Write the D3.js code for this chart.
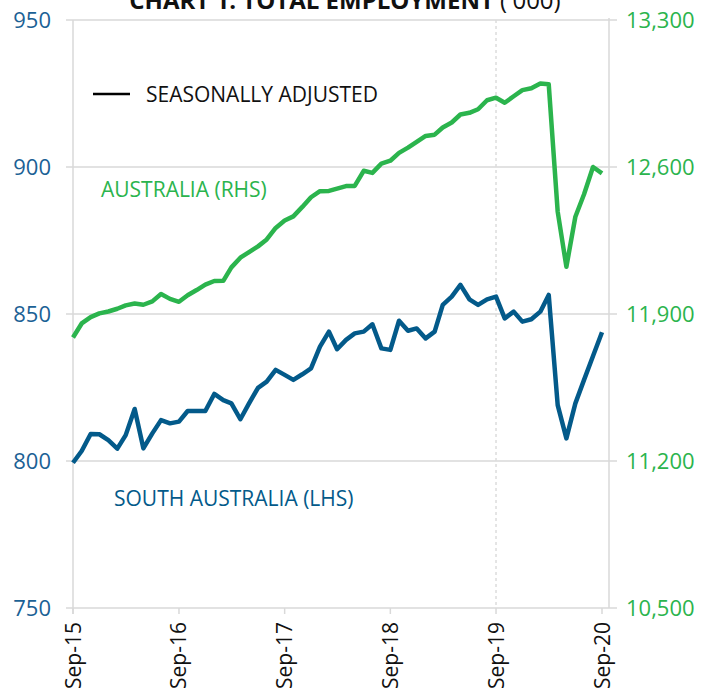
<!DOCTYPE html>
<html><head><meta charset="utf-8">
<script src="https://cdn.jsdelivr.net/npm/d3@7"></script>
<style>body{margin:0;background:#fff;} svg{display:block;font-family:"Open Sans",sans-serif;}</style>
</head><body>
<svg id="c" width="711" height="693"></svg>
<script>
// Monthly, Sep-2015 .. Sep-2020
const startMonth = new Date(2015, 8, 1);
const southAustralia = [799.4,803.4,809.2,809.1,807.1,804.2,808.8,817.7,804.3,809.4,813.9,812.8,813.4,817,817,817,822.8,820.7,819.6,814.2,819.6,824.9,827,831,829.3,827.6,829.5,831.5,838.9,844,838,841.2,843.4,844,846.5,838.3,837.8,847.7,844.3,845.1,841.7,844,853.1,855.9,859.9,855,853.1,855,855.9,848.5,850.8,847.4,848.2,850.8,856.5,819,807.7,819.6,827.6,835.7,843.8];
const australia = [11788,11855,11885,11903,11912,11925,11941,11950,11944,11960,11995,11972,11958,11989,12014,12040,12057,12058,12122,12168,12195,12222,12255,12310,12345,12365,12410,12456,12485,12486,12497,12509,12510,12582,12572,12616,12630,12667,12692,12720,12748,12754,12788,12812,12850,12858,12875,12918,12930,12906,12937,12966,12975,12998,12994,12387,12125,12363,12470,12600,12570];
const leftTicks = [750,800,850,900,950];
const rightTicks = [10500,11200,11900,12600,13300];
const xTickLabels = ["Sep-15","Sep-16","Sep-17","Sep-18","Sep-19","Sep-20"];
const title = "CHART 1: TOTAL EMPLOYMENT";
const titleUnit = " ('000)";
const legendLabel = "SEASONALLY ADJUSTED";
const ausLabel = "AUSTRALIA (RHS)";
const saLabel = "SOUTH AUSTRALIA (LHS)";

const blue = "#035a8a", green = "#2bb44d", grid = "#d9d9d9";
const svg = d3.select("#c");
const L = 73, R = 602, T = 20, B = 608;
const dates = southAustralia.map((_, i) => d3.timeMonth.offset(startMonth, i));
const x = d3.scaleTime().domain([dates[0], dates[dates.length-1]]).range([L, R]);
const yL = d3.scaleLinear().domain([750, 950]).range([B, T]);
const yR = d3.scaleLinear().domain([10500, 13300]).range([B, T]);

// gridlines
svg.append("g").selectAll("line").data(leftTicks).join("line")
  .attr("x1", 66).attr("x2", 617).attr("y1", d => yL(d)).attr("y2", d => yL(d))
  .attr("stroke", grid).attr("stroke-width", 1.5);
// left and right frame lines
svg.append("line").attr("x1", L).attr("x2", L).attr("y1", T).attr("y2", B+6).attr("stroke", grid).attr("stroke-width", 1.5);
svg.append("line").attr("x1", 609).attr("x2", 609).attr("y1", T-2).attr("y2", B).attr("stroke", grid).attr("stroke-width", 1.5);
// Sep-19 dashed line
const tickDates = xTickLabels.map((_, i) => new Date(2015 + i, 8, 1));
svg.append("line").attr("x1", x(tickDates[4])).attr("x2", x(tickDates[4])).attr("y1", T).attr("y2", B)
  .attr("stroke", "#dcdcdc").attr("stroke-width", 1.5).attr("stroke-dasharray", "3,3");

// x axis ticks
svg.append("g").selectAll("line").data(tickDates).join("line")
  .attr("x1", d => x(d)).attr("x2", d => x(d)).attr("y1", B).attr("y2", B+6)
  .attr("stroke", grid).attr("stroke-width", 1.5);
svg.append("g").selectAll("text").data(tickDates).join("text")
  .attr("transform", d => `translate(${x(d)+7.5},${B+14}) rotate(-90)`)
  .attr("text-anchor", "end").attr("font-size", 21).attr("fill", "#111")
  .text((d, i) => xTickLabels[i]);

// y labels
svg.append("g").selectAll("text").data(leftTicks).join("text")
  .attr("x", 51).attr("y", d => yL(d) + 7.5).attr("text-anchor", "end")
  .attr("font-size", 22).attr("fill", "#1b6195").text(d => d);
svg.append("g").selectAll("text").data(rightTicks).join("text")
  .attr("x", 626).attr("y", d => yR(d) + 7.5).attr("text-anchor", "start")
  .attr("font-size", 22).attr("fill", green).text(d => d3.format(",")(d));

// lines
const lineA = d3.line().x((d, i) => x(dates[i])).y(d => yR(d)).curve(d3.curveLinear);
const lineS = d3.line().x((d, i) => x(dates[i])).y(d => yL(d)).curve(d3.curveLinear);
svg.append("path").datum(australia).attr("d", lineA).attr("fill", "none")
  .attr("stroke", green).attr("stroke-width", 4.5).attr("stroke-linejoin", "round");
svg.append("path").datum(southAustralia).attr("d", lineS).attr("fill", "none")
  .attr("stroke", blue).attr("stroke-width", 4.5).attr("stroke-linejoin", "round");

// legend
svg.append("line").attr("x1", 93).attr("x2", 130).attr("y1", 94).attr("y2", 94).attr("stroke", "#000").attr("stroke-width", 2.5);
svg.append("text").attr("x", 146).attr("y", 102).attr("font-size", 21).attr("fill", "#111").text(legendLabel);
svg.append("text").attr("x", 101).attr("y", 197).attr("font-size", 21).attr("fill", green).text(ausLabel);
svg.append("text").attr("x", 114).attr("y", 506).attr("font-size", 21).attr("fill", blue).text(saLabel);

// title
const t = svg.append("text").attr("x", 345).attr("y", 9).attr("text-anchor", "middle").attr("font-size", 24).attr("fill", "#111");
t.append("tspan").attr("font-weight", "bold").text(title);
t.append("tspan").text(titleUnit);
</script>
</body></html>
